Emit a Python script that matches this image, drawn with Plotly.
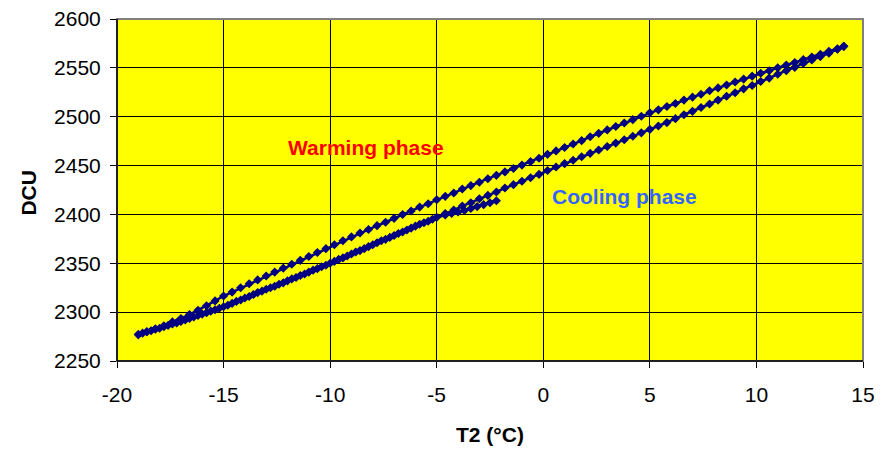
import plotly.graph_objects as go

# First (partial) cooling pass, starting near -2 °C
t_cool1 = [-2.2, -2.5, -2.8, -3.1, -3.4, -3.7, -4.0, -4.3, -4.6,
           -5.2, -5.6, -6.0, -6.4, -6.8, -7.2, -7.6, -8.0, -8.4, -8.8,
           -9.2, -9.6, -10.0, -10.4, -10.8, -11.2, -11.6, -12.0, -12.4, -12.8,
           -13.2, -13.6, -14.0, -14.4, -14.8, -15.2, -15.6, -16.0, -16.4, -16.8,
           -17.2, -17.6, -18.0, -18.4, -18.8]
d_cool1 = [2414, 2412, 2410, 2408, 2406, 2404, 2402.5, 2401, 2399.5,
           2395, 2391.5, 2388, 2384, 2380.5, 2376.5, 2373, 2369, 2365, 2361.5,
           2357.5, 2354, 2350, 2346.5, 2343, 2339, 2335.5, 2332, 2328.5, 2325,
           2321.5, 2318, 2314.5, 2311, 2307, 2304, 2301, 2298, 2295, 2292,
           2289, 2286.5, 2283.5, 2281, 2278.5]

# Warming phase
t_warm = [-19.0, -18.6, -18.2, -17.8, -17.4, -17.0, -16.6, -16.2, -15.8, -15.4,
          -15.0, -14.6, -14.2, -13.8, -13.4, -13.0, -12.6, -12.2, -11.8, -11.4,
          -11.0, -10.6, -10.2, -9.8, -9.4, -9.0, -8.6, -8.2, -7.8, -7.4,
          -7.0, -6.6, -6.2, -5.8, -5.4, -5.0, -4.6, -4.2, -3.8, -3.4,
          -3.0, -2.6, -2.2, -1.8, -1.4, -1.0, -0.6, -0.2, 0.2, 0.6,
          1.0, 1.4, 1.8, 2.2, 2.6, 3.0, 3.4, 3.8, 4.2, 4.6,
          5.0, 5.4, 5.8, 6.2, 6.6, 7.0, 7.4, 7.8, 8.2, 8.6,
          9.0, 9.4, 9.8, 10.2, 10.6, 11.0, 11.4, 11.8, 12.2, 12.6,
          13.0, 13.4, 13.8, 14.1]
d_warm = [2277, 2280, 2283, 2286, 2290, 2293.5, 2297.5, 2302, 2306.5, 2311.5,
          2316.5, 2320.5, 2325, 2329, 2333, 2337, 2341, 2345, 2349, 2353,
          2357, 2361, 2365, 2369, 2373, 2377, 2381, 2384.5, 2388.5, 2392,
          2396, 2400, 2403.5, 2407.5, 2411, 2415, 2418.5, 2422, 2426, 2429.5,
          2433, 2436.5, 2440, 2443.5, 2447, 2450.5, 2454, 2457.5, 2461.5, 2465,
          2468.5, 2472, 2475.5, 2479.5, 2483, 2486.5, 2490, 2493.5, 2497, 2500.5,
          2504, 2507, 2510.5, 2513.5, 2517, 2520, 2523, 2526.5, 2529.5, 2532.5,
          2535.5, 2538.5, 2541.5, 2544.5, 2547, 2550, 2553, 2555.5, 2558.5, 2561,
          2564, 2567, 2569.5, 2572]

# Cooling phase
t_cool2 = [14.1, 13.8, 13.4, 13.0, 12.6, 12.2, 11.8, 11.4, 11.0, 10.6,
           10.2, 9.8, 9.4, 9.0, 8.6, 8.2, 7.8, 7.4, 7.0, 6.6,
           6.2, 5.8, 5.4, 5.0, 4.6, 4.2, 3.8, 3.4, 3.0, 2.6,
           2.2, 1.8, 1.4, 1.0, 0.6, 0.2, -0.2, -0.6, -1.0, -1.4,
           -1.8, -2.2, -2.6, -3.0, -3.4, -3.8, -4.2, -4.6, -5.0, -5.4,
           -5.8, -6.2, -6.6, -7.0, -7.4, -7.8, -8.2, -8.6, -9.0, -9.4,
           -9.8, -10.2, -10.6, -11.0, -11.4, -11.8, -12.2, -12.6, -13.0, -13.4,
           -13.8, -14.2, -14.6, -15.0, -15.4, -15.8, -16.2, -16.6, -17.0, -17.4,
           -17.8, -18.2, -18.6, -19.0]
d_cool2 = [2572, 2569, 2565, 2561.5, 2558, 2554.5, 2550.5, 2547, 2543.5, 2539.5,
           2536, 2532, 2528.5, 2524.5, 2521, 2517, 2513, 2509.5, 2505.5, 2502,
           2498, 2494, 2490.5, 2487, 2483.5, 2480, 2476.5, 2473, 2469.5, 2466,
           2462.5, 2459, 2455.5, 2452, 2448.5, 2445, 2441, 2437.5, 2434, 2430.5,
           2427, 2423, 2419.5, 2416, 2412, 2408.5, 2404.5, 2401, 2397, 2393,
           2390, 2386, 2382, 2378.5, 2374.5, 2371, 2367, 2363, 2359.5, 2355.5,
           2352, 2348, 2344.5, 2341, 2337.5, 2334, 2330, 2326.5, 2323.5, 2320,
           2316, 2312.5, 2309, 2305.5, 2302.5, 2299.5, 2296.5, 2293.5, 2290.5, 2288,
           2285, 2282.5, 2280, 2277]

x_ticks = [-20, -15, -10, -5, 0, 5, 10, 15]
x_tick_text = ["-20", "-15", "-10", "-5", "0", "5", "10", "15"]
y_ticks = [2250, 2300, 2350, 2400, 2450, 2500, 2550, 2600]
y_tick_text = ["2250", "2300", "2350", "2400", "2450", "2500", "2550", "2600"]

labels = ["Warming phase", "Cooling phase"]
label_x = [-8.3, 3.8]
label_y = [2469, 2418]
label_colors = ["#FF0000", "#3366FF"]

t_all = t_cool1 + t_warm + t_cool2
d_all = d_cool1 + d_warm + d_cool2

FONT = "Liberation Sans, Arial, sans-serif"

fig = go.Figure()
fig.add_trace(go.Scatter(
    x=t_all, y=d_all, mode="lines+markers",
    line=dict(color="#000080", width=2.5),
    marker=dict(symbol="diamond", size=7, color="#000080"),
    showlegend=False,
))

for txt, lx, ly, c in zip(labels, label_x, label_y, label_colors):
    fig.add_annotation(x=lx, y=ly, text="<b>%s</b>" % txt, showarrow=False,
                       xanchor="center", yanchor="middle",
                       font=dict(family=FONT, size=21, color=c))

# axis titles
fig.add_annotation(xref="paper", yref="paper", x=0.5, y=-0.216, text="<b>T2 (°C)</b>",
                   showarrow=False, xanchor="center", yanchor="middle",
                   font=dict(family=FONT, size=21, color="black"))
fig.add_annotation(xref="paper", yref="paper", x=-0.119, y=0.493, text="<b>DCU</b>",
                   textangle=-90, showarrow=False, xanchor="center", yanchor="middle",
                   font=dict(family=FONT, size=21, color="black"))

fig.update_layout(
    width=888, height=453,
    margin=dict(l=109, r=33, t=11, b=100),
    paper_bgcolor="white", plot_bgcolor="#FFFF00",
    font=dict(family=FONT, size=21, color="black"),
    xaxis=dict(range=[-20, 15], tickvals=x_ticks, ticktext=x_tick_text,
               showgrid=True, gridcolor="black", automargin=False,
               gridwidth=1, zeroline=False, showline=True, linecolor="black",
               linewidth=1, ticks="outside", ticklen=6, tickcolor="black",
               ticklabelstandoff=9, ticklabeloverflow="allow"),
    yaxis=dict(range=[2250, 2600], tickvals=y_ticks, ticktext=y_tick_text,
               showgrid=True, gridcolor="black", automargin=False,
               gridwidth=1, zeroline=False, showline=True, linecolor="black",
               linewidth=1, ticks="outside", ticklen=6, tickcolor="black",
               ticklabelstandoff=5, ticklabeloverflow="allow"),
)
fig.add_shape(type="rect", xref="paper", yref="paper", x0=0, y0=0, x1=1, y1=1,
              line=dict(color="#808080", width=2), layer="above")
fig.add_shape(type="line", xref="paper", yref="paper", x0=0, y0=0, x1=0, y1=1,
              line=dict(color="black", width=1.5), layer="above")
fig.add_shape(type="line", xref="paper", yref="paper", x0=0, y0=0, x1=1, y1=0,
              line=dict(color="black", width=1.5), layer="above")

fig.write_html("out.html")
